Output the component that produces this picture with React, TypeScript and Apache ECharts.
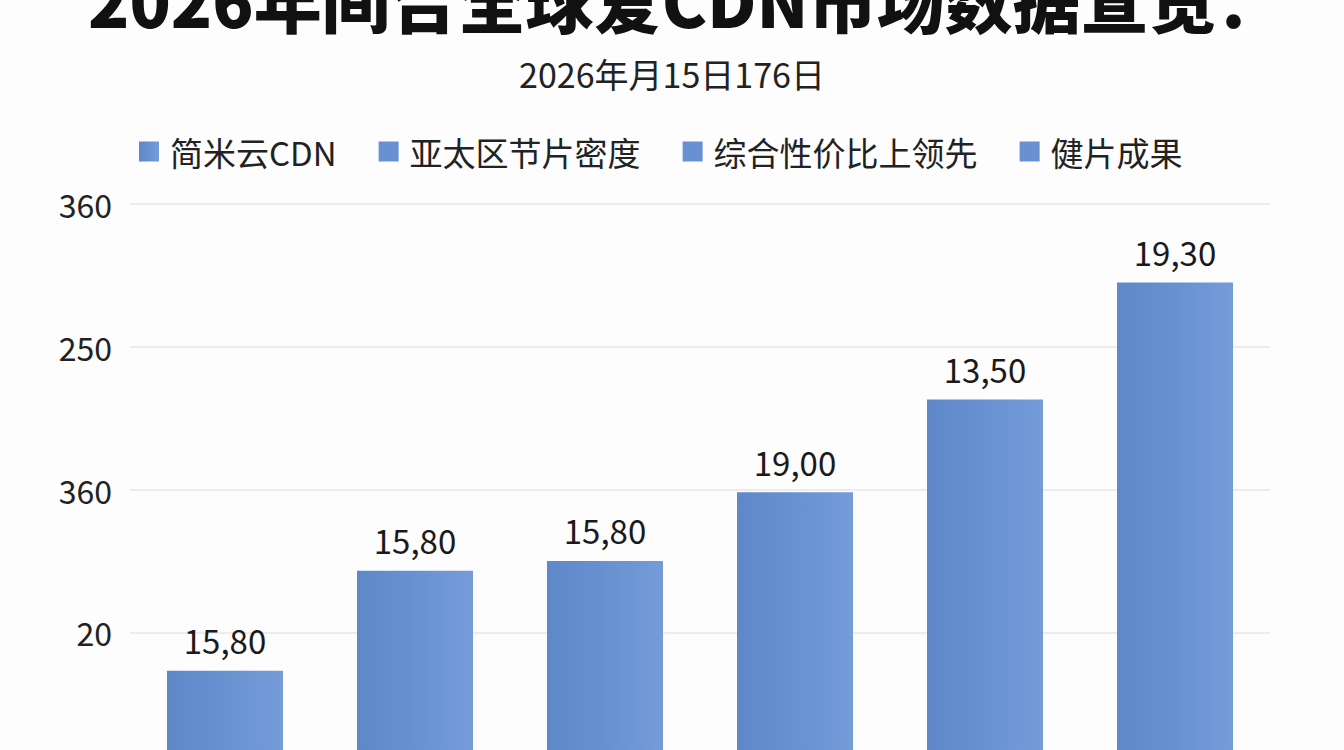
import { useEffect, useRef } from 'react';
import * as echarts from 'echarts';

const titleText = '2026年间合全球爱CDN市场数据宣览：';
const subtitleText = '2026年月15日176日';
const categories = ['1', '2', '3', '4', '5', '6'];
// bar heights, in axis units (gridlines every 100)
const barValues = [73, 143, 150, 198, 263, 345];
const barLabels = ['15,80', '15,80', '15,80', '19,00', '13,50', '19,30'];
const legendNames = ['简米云CDN', '亚太区节片密度', '综合性价比上领先', '健片成果'];
// printed tick labels at 100, 200, 300, 400
const tickLabels: Record<number, string> = { 100: '20', 200: '360', 300: '250', 400: '360' };

const FONT = '"Noto Sans CJK SC", "Noto Sans", sans-serif';
const BLUE = '#6990d0';

const App = () => {
    const chartRef = useRef<HTMLDivElement>(null);

    useEffect(() => {
        if (!chartRef.current) return;
        const chart = echarts.init(chartRef.current, undefined, { renderer: 'svg' });

        const barFill = new echarts.graphic.LinearGradient(0, 0, 1, 0, [
            { offset: 0, color: '#5f88c9' },
            { offset: 0.45, color: '#6690cf' },
            { offset: 1, color: '#759cd9' }
        ]);

        chart.setOption({
            animation: false,
            backgroundColor: '#fdfdfd',
            textStyle: { fontFamily: FONT },
            graphic: [
                {
                    type: 'text',
                    left: 88,
                    top: -36,
                    style: {
                        text: titleText,
                        fontSize: 68,
                        lineHeight: 68,
                        fontWeight: 900,
                        fontFamily: FONT,
                        fill: '#111'
                    }
                },
                {
                    type: 'text',
                    left: 'center',
                    top: 55,
                    style: {
                        text: subtitleText,
                        fontSize: 34,
                        lineHeight: 36,
                        fontFamily: FONT,
                        fill: '#222'
                    }
                }
            ],
            legend: {
                left: 134,
                top: 130,
                icon: 'rect',
                itemWidth: 20,
                itemHeight: 20,
                itemGap: 42,
                data: legendNames,
                textStyle: {
                    fontSize: 33,
                    color: '#222',
                    fontFamily: FONT,
                    padding: [0, 0, 0, 6]
                }
            },
            grid: { left: 130, width: 1140, top: 204, height: 571 },
            xAxis: {
                type: 'category',
                data: categories,
                axisLine: { show: false },
                axisTick: { show: false },
                axisLabel: { show: false }
            },
            yAxis: {
                type: 'value',
                min: 0,
                max: 400,
                interval: 100,
                axisLine: { show: false },
                axisTick: { show: false },
                axisLabel: {
                    formatter: (v: number) => tickLabels[v] ?? '',
                    fontSize: 32,
                    color: '#222',
                    margin: 18,
                    fontFamily: FONT
                },
                splitLine: { lineStyle: { color: '#e6e6e6', width: 1.5 } }
            },
            series: [
                {
                    name: legendNames[0],
                    type: 'bar',
                    data: barValues,
                    barWidth: 116,
                    itemStyle: { color: barFill },
                    label: {
                        show: true,
                        position: 'top',
                        distance: 14,
                        fontSize: 33,
                        color: '#1a1a1a',
                        fontFamily: FONT,
                        formatter: (p: any) => barLabels[p.dataIndex]
                    }
                },
                ...legendNames.slice(1).map((name) => ({
                    name,
                    type: 'line',
                    data: [],
                    itemStyle: { color: BLUE }
                }))
            ],
            color: [BLUE, BLUE, BLUE, BLUE]
        });

        return () => chart.dispose();
    }, []);

    // taller than the window on purpose: the axis base sits below the visible area
    return (
        <div
            ref={chartRef}
            style={{ position: 'fixed', left: 0, top: 0, width: 1344, height: 800 }}
        />
    );
};

export default App;
